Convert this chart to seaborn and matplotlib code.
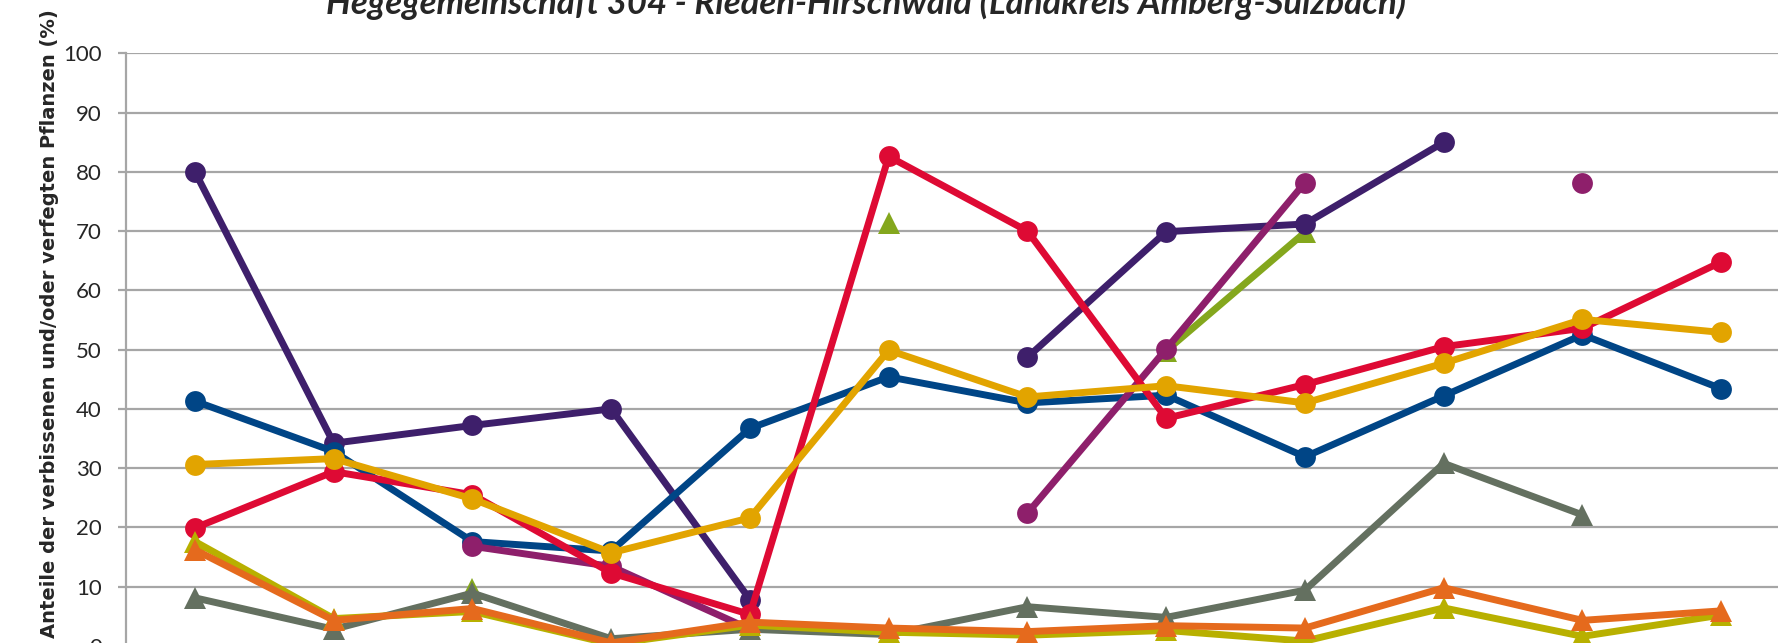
import numpy as np
import pandas as pd
import seaborn as sns
import matplotlib
matplotlib.use("Agg")
import matplotlib.pyplot as plt

nan = np.nan
positions = list(range(12))

green   = [nan, nan, 9.6, nan, nan, 71.3, nan, 49.8, 69.8, nan, nan, nan]
purple  = [80.0, 34.2, 37.2, 40.0, 7.8, nan, 48.7, 69.9, 71.2, 85.0, nan, nan]
blue    = [41.3, 32.8, 17.6, 16.0, 36.7, 45.4, 41.0, 42.3, 31.9, 42.2, 52.5, 43.4]
magenta = [nan, nan, 16.8, 13.4, 2.8, nan, 22.4, 50.1, 78.2, nan, 78.2, nan]
red     = [19.9, 29.4, 25.5, 12.3, 5.3, 82.6, 70.0, 38.4, 44.1, 50.5, 53.6, 64.8]
yellow  = [30.6, 31.6, 24.8, 15.7, 21.6, 49.9, 42.0, 43.9, 41.0, 47.7, 55.1, 52.9]
gray    = [8.1, 2.8, 8.9, 1.2, 2.8, 1.9, 6.6, 4.8, 9.4, 30.8, 22.1, nan]
lime    = [17.6, 4.6, 5.8, 0.3, 3.5, 2.3, 1.8, 2.6, 0.8, 6.4, 1.6, 5.2]
orange  = [16.2, 4.3, 6.3, 0.5, 4.0, 3.0, 2.4, 3.4, 3.0, 9.8, 4.3, 5.9]

title = "Hegegemeinschaft 304 - Rieden-Hirschwald (Landkreis Amberg-Sulzbach)"
ylabel = "Anteile der verbissenen und/oder verfegten Pflanzen (%)"
yticks = [0, 10, 20, 30, 40, 50, 60, 70, 80, 90, 100]

series = [
    (green, "#84A71D", "^"),
    (purple, "#3E1F6B", "o"),
    (blue, "#004586", "o"),
    (magenta, "#8E1F6B", "o"),
    (red, "#DE0A34", "o"),
    (yellow, "#E2A400", "o"),
    (gray, "#647060", "^"),
    (lime, "#B8B000", "^"),
    (orange, "#E56A1D", "^"),
]

sns.set_theme(style="white")
plt.rcParams['font.family'] = ['Lato', 'DejaVu Sans']

fig = plt.figure(figsize=(17.78, 6.43), dpi=100)
ax = fig.add_axes([125.6 / 1778, -0.0044, (1790.6 - 125.6) / 1778, 0.917 + 0.0044])

for vals, col, mk in series:
    df = pd.DataFrame({"x": positions, "y": vals})
    seg_id = df["y"].isna().cumsum()
    df = df.assign(seg=seg_id).dropna()
    for _, seg in df.groupby("seg"):
        sns.lineplot(data=seg, x="x", y="y", ax=ax, color=col, linewidth=5.0,
                     marker=mk, markersize=15 if mk == "o" else 16,
                     markeredgewidth=0, sort=False, estimator=None)

ax.set_xlim(-0.5, 11.5)
ax.set_ylim(0, 100)
ax.set_yticks(yticks)
ax.set_yticklabels([str(t) for t in yticks], fontsize=16)
ax.set_xticks([])
ax.set_xlabel("")
ax.set_ylabel(ylabel, fontsize=14, fontweight="bold", family="DejaVu Sans")
ax.yaxis.set_label_coords(-0.040, 0.543)
ax.yaxis.grid(True, color="#A6A6A6", linewidth=1.6)
ax.set_axisbelow(True)
for s in ["top", "right", "bottom"]:
    ax.spines[s].set_visible(False)
ax.spines["left"].set_color("#A6A6A6")
ax.spines["left"].set_linewidth(1.6)
ax.tick_params(axis="y", which="major", length=6, width=1.6, color="#A6A6A6", left=True, pad=11)

fig.text(0.487, 0.979, title, ha="center", va="baseline", fontsize=25,
         fontweight="bold", fontstyle="italic")

fig.savefig("out.png", dpi=100)
